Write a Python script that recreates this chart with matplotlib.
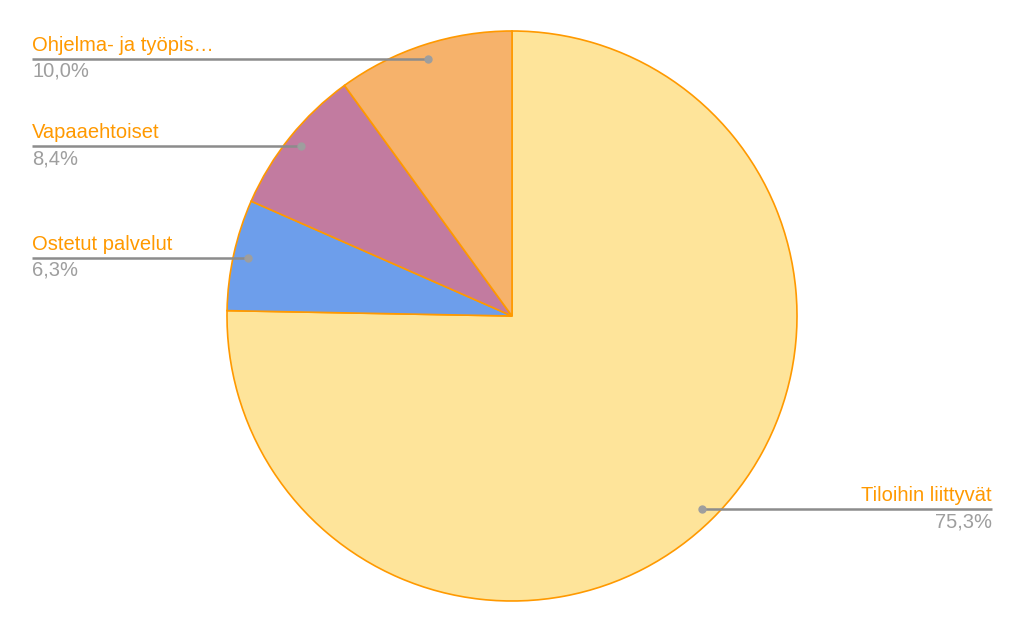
import numpy as np
import matplotlib
matplotlib.use("Agg")
import matplotlib.pyplot as plt

plt.rcParams['font.family'] = ['Liberation Sans', 'DejaVu Sans']

# slices in clockwise order from 12 o'clock
labels = ["Tiloihin liittyvät", "Ostetut palvelut", "Vapaaehtoiset", "Ohjelma- ja työpis…"]
values = [75.3, 6.3, 8.4, 10.0]
pct_text = ["75,3%", "6,3%", "8,4%", "10,0%"]
colors = ["#FEE49A", "#6D9EEB", "#C27BA0", "#F6B26B"]

W, H = 1024, 633
fig = plt.figure(figsize=(W / 100, H / 100), dpi=100)
ax = fig.add_axes([0, 0, 1, 1])

cx, cy, R = 512, H - 316, 285
wedges, _ = ax.pie(values, colors=colors, startangle=90, counterclock=False,
                   center=(cx, cy), radius=R, frame=True,
                   wedgeprops=dict(edgecolor="#FF9900", linewidth=1.2))
ax.set_xlim(0, W)
ax.set_ylim(0, H)
ax.set_aspect('equal')
ax.axis('off')

orange = "#FF9900"
grey = "#9E9E9E"
for w, lab, pt in zip(wedges, labels, pct_text):
    mid = np.deg2rad((w.theta1 + w.theta2) / 2)
    dx = cx + 0.95 * R * np.cos(mid)
    dy = cy + 0.95 * R * np.sin(mid)
    if np.cos(mid) < 0:
        xe, ha = 32, 'left'
    else:
        xe, ha = 992, 'right'
    ax.plot([dx, xe], [dy, dy], color="#8C8C8C", lw=1.8, solid_capstyle='butt', zorder=5)
    ax.plot(dx, dy, 'o', color="#9E9E9E", ms=5, zorder=6)
    ax.text(xe, dy + 4, lab, color=orange, fontsize=14.5, ha=ha, va='bottom')
    ax.text(xe, dy - 3, pt, color=grey, fontsize=14.5, ha=ha, va='top')

fig.savefig("out.png", dpi=100)
